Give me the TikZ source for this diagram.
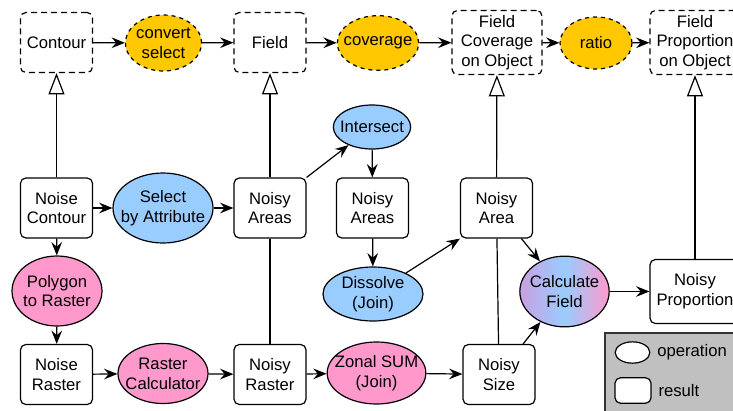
\documentclass[tikz,border=0pt]{standalone}
\usepackage{fontspec}
\setmainfont{Liberation Sans}
\usetikzlibrary{arrows.meta,shapes.geometric,positioning}

\definecolor{opyellow}{RGB}{255,200,0}
\definecolor{opblue}{RGB}{153,204,255}
\definecolor{oppink}{RGB}{255,153,204}
\definecolor{oplilac}{RGB}{200,160,225}
\definecolor{legendgray}{RGB}{192,192,192}

\tikzset{every picture/.style={line width=0.9pt}}
\tikzset{
  result/.style={draw, rounded corners=4pt, fill=white, align=center, minimum width=54pt, minimum height=45pt, inner sep=1pt, font=\fontsize{12.5}{14.8}\selectfont},
  wideresult/.style={result, minimum width=67.5pt, minimum height=48pt},
  concept/.style={result, dashed, dash pattern=on 4.5pt off 3pt},
  wideconcept/.style={wideresult, dashed, dash pattern=on 4.5pt off 3pt},
  operation/.style={draw, ellipse, align=center, inner xsep=-7pt, inner ysep=0pt, font=\fontsize{12.5}{14.8}\selectfont},
  flow/.style={-{Stealth[length=10pt,width=8pt,inset=3.5pt]}},
  realize/.style={-{Triangle[length=16pt,width=12pt,fill=white]}},
}

\begin{document}
\begin{tikzpicture}[x=0.75pt,y=0.75pt,yscale=-1]
	\useasboundingbox (0,0) rectangle (733,411);
	\clip (0,0) rectangle (733,411);

	% concepts (top row)
	\node [concept] (contour) at (56.5,42.5) {Contour};
	\node [operation, fill=opyellow, dashed, minimum width=57pt, minimum height=42pt] (convsel) at (163.5,43) {convert\\select};
	\node [concept] (field) at (270,42.5) {Field};
	\node [operation, fill=opyellow, dashed, minimum width=61pt, minimum height=41pt] (cover) at (378,43) {coverage};
	\node [wideconcept] (fcov) at (497,42.5) {Field\\Coverage\\on Object};
	\node [operation, fill=opyellow, dashed, minimum width=54pt, minimum height=39pt] (ratio) at (596,43) {ratio};
	\node [wideconcept] (fprop) at (695,42.5) {Field\\Proportion\\on Object};

	% Text Node
	\node [result] (ncont) at (56.5,208) {Noise\\Contour};
	\node [operation, fill=opblue, minimum width=75pt, minimum height=52.5pt] (selattr) at (163,208) {Select\\by Attribute};
	\node [result] (nareas) at (270,208) {Noisy\\Areas};
	\node [operation, fill=opblue, minimum width=58pt, minimum height=33pt] (inter) at (372,127) {Intersect};
	\node [result] (nareasb) at (372.5,208) {Noisy\\Areas};
	\node [result] (narea) at (496.5,208) {Noisy\\Area};

	% Text Node
	\node [operation, fill=oppink, minimum width=67.5pt, minimum height=52.5pt] (poly) at (57,291) {Polygon\\to Raster};
	\node [operation, fill=opblue, minimum width=75pt, minimum height=40.5pt] (dissolve) at (373,294) {Dissolve\\(Join)};
	\node [operation, left color=oplilac, right color=oppink, middle color=opblue, minimum width=67pt, minimum height=53pt] (calc) at (564.5,291.5) {Calculate\\Field};
	\node [wideresult] (nprop) at (695,291.5) {Noisy\\Proportion};

	% Text Node
	\node [result] (nraster) at (56.5,374.5) {Noise\\Raster};
	\node [operation, fill=oppink, minimum width=67.5pt, minimum height=45pt] (rcalc) at (163,373.5) {Raster\\Calculator};
	\node [result] (nrasterb) at (270,374.5) {Noisy\\Raster};
	\node [operation, fill=oppink, minimum width=74pt, minimum height=46.5pt] (zonal) at (376.5,373) {Zonal SUM\\(Join)};
	\node [result] (nsize) at (499,374.5) {Noisy\\Size};

	% top row flow
	\draw [flow] (contour) -- (convsel);
	\draw [flow] (convsel) -- (field);
	\draw [flow] (field) -- (cover);
	\draw [flow] (cover) -- (fcov);
	\draw [flow] (fcov) -- (ratio);
	\draw [flow] (ratio) -- (fprop);

	% realisations
	\draw [realize] (ncont) -- (contour);
	\draw [realize] (nareas) -- (field);
	\draw [realize] (narea) -- (fcov);
	\draw [realize] (nprop) -- (fprop);

	% workflow
	\draw [flow] (ncont) -- (selattr);
	\draw [flow] (selattr) -- (nareas);
	\draw [flow] (nareas.north east) -- (inter);
	\draw [flow] (inter) -- (nareasb);
	\draw [flow] (nareasb) -- (dissolve);
	\draw [flow] (dissolve) -- (narea.south west);
	\draw [flow] (narea) -- (calc);
	\draw [flow] (nsize) -- (calc);
	\draw [flow] (calc) -- (nprop);
	\draw [flow] (ncont) -- (poly);
	\draw [flow] (poly) -- (nraster);
	\draw [flow] (nraster) -- (rcalc);
	\draw [flow] (rcalc) -- (nrasterb);
	\draw [flow] (nrasterb) -- (zonal);
	\draw [flow] (zonal) -- (nsize);
	\draw (nrasterb) -- (nareas);
	\draw (nsize) -- (narea);

	% legend
	\draw [fill=legendgray, draw=black!80] (605,333) rectangle (745,420);
	\node [draw, ellipse, fill=white, minimum width=26pt, minimum height=16pt, inner sep=0pt] (legop) at (632.5,352.5) {};
	\node [draw, rounded corners=4pt, fill=white, minimum width=27pt, minimum height=19pt, inner sep=0pt] (legres) at (633,390.5) {};
	\node [right=4pt of legop, font=\fontsize{12.5}{14.8}\selectfont, inner sep=0.75pt] (legoptext) {operation};
	\node [right=4pt of legres, font=\fontsize{12.5}{14.8}\selectfont, inner sep=0.75pt] (legrestext) {result};
\end{tikzpicture}
\end{document}
